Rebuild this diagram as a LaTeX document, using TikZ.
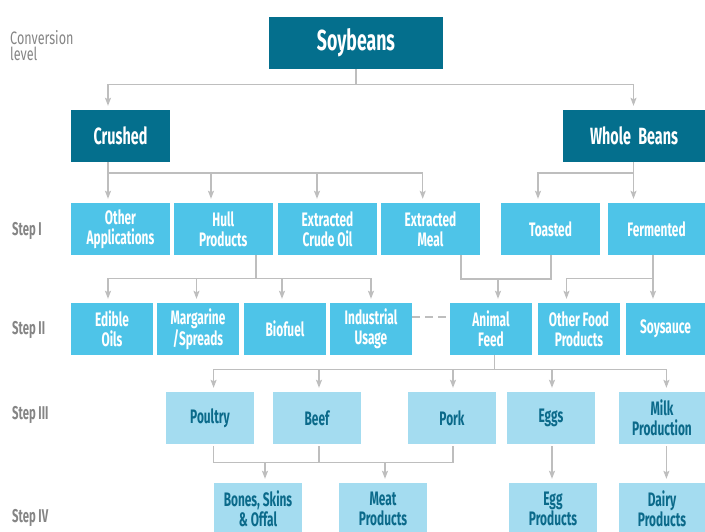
\documentclass[tikz,border=0pt]{standalone}
\usepackage{fontspec}
\setmainfont{Fira Sans}[FakeStretch=0.7]
\newfontfamily\boxfont{Fira Sans}[FakeStretch=0.61]
\usetikzlibrary{arrows.meta}
\definecolor{darkteal}{HTML}{046F8D}
\definecolor{cyanbox}{HTML}{4EC4E8}
\definecolor{lightbox}{HTML}{A4DCF0}
\definecolor{lighttext}{HTML}{0B6A8A}
\definecolor{conngray}{HTML}{BEBEBE}
\definecolor{labelgray}{HTML}{858585}
\tikzset{
  box/.style={rectangle, inner sep=0pt, align=center, font=\boxfont\bfseries\fontsize{19.5}{20}\selectfont},
  dbox/.style={box, fill=darkteal, text=white},
  cbox/.style={box, fill=cyanbox, text=white},
  lbox/.style={box, fill=lightbox, text=lighttext},
  wh/.style 2 args={minimum width=#1pt, minimum height=#2pt},
  lvl/.style={anchor=west, inner sep=0pt, text=labelgray, font=\fontsize{18}{16.5}\selectfont, align=left},
  steplbl/.style={lvl, font=\boxfont\bfseries\fontsize{18.5}{18}\selectfont},
  conn/.style={draw=conngray, line width=1.3pt},
  arr/.style={conn, -{Stealth[length=8pt,width=6pt,inset=1.5pt]}, shorten >=4pt},
}
\begin{document}
\begin{tikzpicture}[x=1pt,y=-1pt]
\clip (0,0) rectangle (705,531);
% level labels
\node[lvl, anchor=base west] (lc) at (10,60.5) {Conversion\\level};
\node[steplbl] (l1) at (12,231) {Step I};
\node[steplbl] (l2) at (12,330) {Step II};
\node[steplbl] (l3) at (12,415) {Step III};
\node[steplbl] (l4) at (12,518) {Step IV};
% top
\node[dbox, wh={174}{52}, font=\boxfont\bfseries\fontsize{29}{29}\selectfont] (soy) at (356,43) {Soybeans};
\node[dbox, wh={99}{52}, font=\boxfont\bfseries\fontsize{23.5}{24}\selectfont] (crushed) at (120.5,136) {Crushed};
\node[dbox, wh={142}{52}, font=\boxfont\bfseries\fontsize{23.5}{24}\selectfont] (whole) at (634,136) {Whole\, Beans};
% step I
\node[cbox, wh={99}{52}] (other) at (120.5,229) {Other\\Applications};
\node[cbox, wh={98.5}{52}] (hull) at (223.25,229) {Hull\\Products};
\node[cbox, wh={99}{52}] (crude) at (327.5,229) {Extracted\\Crude Oil};
\node[cbox, wh={99}{52}] (meal) at (430.5,229) {Extracted\\Meal};
\node[cbox, wh={99}{52}] (toasted) at (550.5,229) {Toasted};
\node[cbox, wh={97}{52}] (ferm) at (656.5,229) {Fermented};
% step II
\node[cbox, wh={82}{52}] (edible) at (112,329) {Edible\\Oils};
\node[cbox, wh={82}{52}] (marg) at (198,329) {Margarine\\/Spreads};
\node[cbox, wh={82}{52}] (bio) at (285,329) {Biofuel};
\node[cbox, wh={82}{52}] (indus) at (371,329) {Industrial\\Usage};
\node[cbox, wh={82}{52}] (feed) at (491,329) {Animal\\Feed};
\node[cbox, wh={82}{52}] (ofood) at (579,329) {Other Food\\Products};
\node[cbox, wh={79}{52}] (soys) at (665.5,329) {Soysauce};
% step III
\node[lbox, wh={88}{52}] (poultry) at (210,418) {Poultry};
\node[lbox, wh={88}{52}] (beef) at (317,418) {Beef};
\node[lbox, wh={88}{52}] (pork) at (452,418) {Pork};
\node[lbox, wh={88}{52}] (eggs) at (551,418) {Eggs};
\node[lbox, wh={86}{52}] (milk) at (662,418) {Milk\\Production};
% step IV
\node[lbox, wh={88}{52}] (bones) at (258,509) {Bones, Skins\\\& Offal};
\node[lbox, wh={88}{52}] (meat) at (383,509) {Meat\\Products};
\node[lbox, wh={88}{52}] (eggp) at (553,509) {Egg\\Products};
\node[lbox, wh={86}{52}] (dairy) at (662,509) {Dairy\\Products};
% connectors: soybeans
\draw[arr] (soy.south) -- ++(0,15) -| ([xshift=-12.5pt]crushed.north);
\draw[arr] (soy.south) -- ++(0,15) -| ([xshift=-0.5pt]whole.north);
% crushed
\draw[arr] ([xshift=-12.5pt]crushed.south) -- ([xshift=-12.5pt]other.north);
\draw[arr] ([xshift=-12.5pt]crushed.south) -- ++(0,10.7) -| ([xshift=-12.25pt]hull.north);
\draw[arr] ([xshift=-12.5pt]crushed.south) -- ++(0,10.7) -| ([xshift=-10.5pt]crude.north);
\draw[arr] ([xshift=-12.5pt]crushed.south) -- ++(0,10.7) -| ([xshift=-7.8pt]meal.north);
% whole beans
\draw[arr] ([xshift=-0.5pt]whole.south) -- ++(0,10.7) -| ([xshift=-12.5pt]toasted.north);
\draw[arr] ([xshift=-0.5pt]whole.south) -- ([xshift=-23pt]ferm.north);
% hull
\draw[arr] ([xshift=32.75pt]hull.south) -- ++(0,23) -| ([xshift=-4pt]edible.north);
\draw[arr] ([xshift=32.75pt]hull.south) -- ++(0,23) -| ([xshift=-1.5pt]marg.north);
\draw[arr] ([xshift=32.75pt]hull.south) -- ++(0,23) -| ([xshift=-3pt]bio.north);
\draw[arr] ([xshift=32.75pt]hull.south) -- ++(0,23) -| (indus.north);
% meal + toasted
\draw[arr] ([xshift=30.5pt]meal.south) -- ++(0,23.7) -| ([xshift=7pt]feed.north);
\draw[conn] ([xshift=0.5pt]toasted.south) -- ++(0,23.7) -| ([xshift=7pt]feed.north |- 0,278.7);
% fermented
\draw[arr] ([xshift=-3.5pt]ferm.south) -- ++(0,23) -| ([xshift=-12.5pt]ofood.north);
\draw[arr] ([xshift=-3.5pt]ferm.south) -- ([xshift=-12.5pt]soys.north);
% dashed
\draw[conn, dash pattern=on 8pt off 5pt] ([yshift=12pt]indus.east) -- ([yshift=12pt]feed.west);
% animal feed
\draw[arr] ([xshift=3.6pt]feed.south) -- ++(0,14) -| ([xshift=3.6pt]poultry.north);
\draw[arr] ([xshift=3.6pt]feed.south) -- ++(0,14) -| ([xshift=2pt]beef.north);
\draw[arr] ([xshift=3.6pt]feed.south) -- ++(0,14) -| ([xshift=1pt]pork.north);
\draw[arr] ([xshift=3.6pt]feed.south) -- ++(0,14) -| ([xshift=1pt]eggs.north);
\draw[arr] ([xshift=3.6pt]feed.south) -- ++(0,14) -| ([xshift=4.4pt]milk.north);
% step III -> IV
\draw[conn] ([xshift=3.6pt,yshift=-2pt]poultry.south) -- ++(0,16) coordinate (jm) -| ([xshift=1pt,yshift=-2pt]pork.south);
\draw[conn] ([xshift=2pt,yshift=-2pt]beef.south) -- ([xshift=2pt]beef.south |- jm);
\draw[arr] ([xshift=7pt]bones.north |- jm) -- ([xshift=7pt]bones.north);
\draw[arr] ([xshift=2pt]meat.north |- jm) -- ([xshift=2pt]meat.north);
\draw[arr] ([xshift=1pt,yshift=-2pt]eggs.south) -- ([xshift=-1pt]eggp.north);
\draw[arr] ([xshift=4.4pt,yshift=-2pt]milk.south) -- ([xshift=4.4pt]dairy.north);
\end{tikzpicture}
\end{document}
